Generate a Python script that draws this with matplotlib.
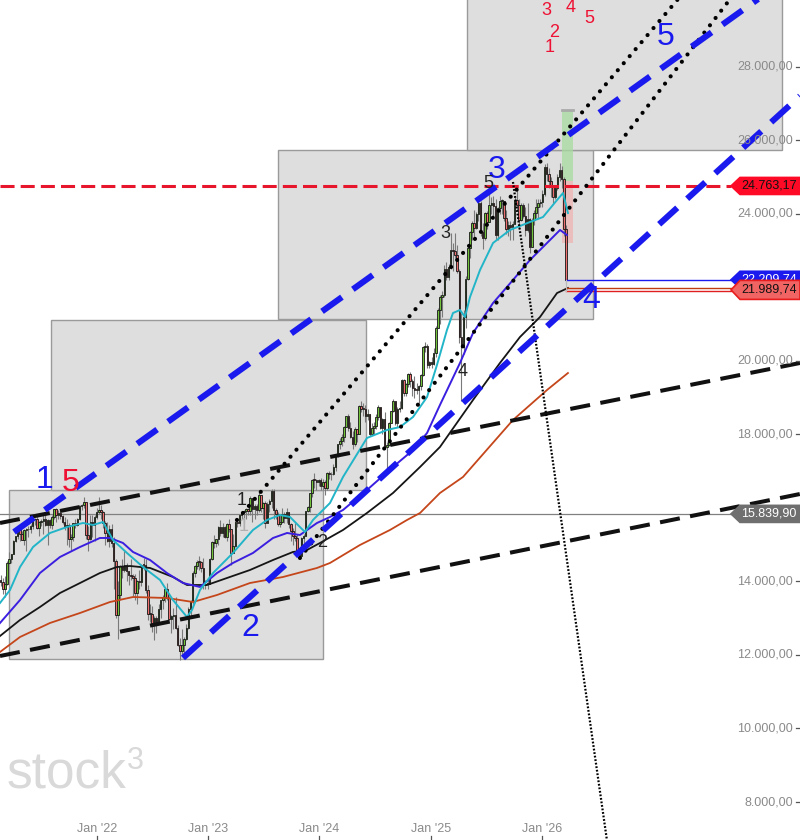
import numpy as np
import pandas as pd
import matplotlib
matplotlib.use("Agg")
import matplotlib.pyplot as plt
from matplotlib.patches import Rectangle, Polygon
import matplotlib.transforms as mtransforms

# ---------------- DATA ----------------
first_open = 14050
close_2021 = [13993,13786,13920,14502,14621,14748,15107,15234,15460,15280,15136,15400,15417,15438,15520,15693,15693,15448,15608,15650,15688,15540,15669,15544,15761,15977,15808,15852,15781,15609,15490,15532,15156,15206,15587,15543,15689,16054,16094,16160,15257,15170,15623,15532,15756,15885]
high_2021 = [14170,14100,14160,14570,14800,14760,15120,15250,15500,15500,15380,15420,15460,15500,15560,15700,15730,15800,15650,15700,15810,15800,15700,15690,15810,15980,15990,15950,15930,15810,15750,15700,15600,15290,15600,15700,15730,16080,16100,16290,16150,15500,15800,15800,15800,16000]
low_2021 = [13870,13650,13580,13900,14480,14500,14750,15080,15150,15100,15120,14980,14820,15200,15330,15420,15550,15440,15250,15520,15290,15500,14980,15450,15420,15700,15620,15700,15700,15560,15400,15000,14950,14820,15100,15450,15500,15670,15950,16000,15150,14820,15120,15200,15100,15700]

close_2022 = [15948,15883,15603,15318,15100,15425,15042,14567,13094,13628,14413,14306,14446,14284,14164,14142,14098,13674,14027,13982,14462,14460,13762,13127,13118,12813,13015,12865,13254,13484,13574,13795,13544,12971,13050,13088,12741,12284,12114,12273,12438,12731,13243,13460,14224,14432,14541,14529,14371,13894,13941,13924]
high_2022 = [16290,16080,15920,15650,15630,15540,15570,15200,14600,14000,14450,14600,14830,14500,14250,14600,14200,14200,14050,14300,14470,14650,14600,13900,13380,13320,13050,13060,13400,13500,13620,13820,13950,13600,13100,13280,13570,12820,12450,12700,12500,12850,13300,13490,14280,14450,14580,14700,14550,14650,14050,14080]
low_2022 = [15850,15700,15450,14980,15080,14950,14950,13800,13000,12440,13500,14100,14250,14000,13900,14050,13600,13500,13380,13800,13870,14300,13700,12960,12900,12630,12400,12600,12900,13000,13250,13450,13500,12950,12600,12720,12700,12250,11860,11980,11980,12400,12700,13000,13400,14120,14350,14300,14250,13800,13790,13800]

close_2023 = [14610,15087,15034,15150,15476,15308,15482,15210,15578,15428,14768,14957,15629,15598,15808,15882,15922,15961,15914,16275,15984,16051,15950,16358,15989,16148,15603,16105,16177,16469,15952,15832,15574,15632,15840,15740,15894,15557,15387,15229,15187,14798,14688,15189,15235,15919,16029,16398,16759,16751,16706,16752]
high_2023 = [14630,15100,15270,15170,15500,15660,15600,15500,15600,15710,15400,15300,15650,15680,15830,15920,15940,16000,16000,16330,16230,16100,16100,16430,16300,16170,16200,16150,16250,16530,16530,16000,15900,15800,16000,15900,15990,15890,15600,15450,15580,15300,14900,15200,15300,15930,16050,16420,16800,16960,16780,16800]
low_2023 = [14000,14580,14900,14950,15000,15250,15200,15180,15100,15350,14460,14800,14950,15480,15500,15700,15600,15700,15800,15800,15630,15700,15800,15900,15900,15700,15450,15600,15900,16000,15700,15700,15500,15470,15600,15600,15600,15450,15100,15000,15100,14750,14630,14700,15000,15250,15900,15900,16300,16550,16500,16600]

close_2024 = [16594,16705,16555,16961,16918,16927,17117,17419,17735,17815,17936,18206,18492,18175,17930,17737,18161,18001,18773,18704,18693,18498,18557,18002,18164,18235,18475,18748,18172,18418,17661,17723,18322,18633,18907,18302,18700,18720,19474,19121,19374,19658,19464,19255,19215,19211,19323,19626,20385,20406,19885,19985]
high_2024 = [16820,16800,16750,16980,17000,16970,17200,17450,17750,17900,18000,18230,18500,18570,18350,18100,18200,18150,18800,18900,18850,18800,18700,18550,18300,18350,18550,18800,18700,18450,18600,17800,18350,18650,18970,18900,18750,18900,19500,19500,19400,19680,19700,19500,19600,19400,19350,19650,20400,20520,20450,20000]
low_2024 = [16500,16500,16350,16500,16800,16750,16900,17000,17400,17600,17700,17800,18200,18100,17900,17600,17700,17800,18000,18600,18500,18350,18400,17950,18000,18000,18150,18400,18150,18000,17600,17020,17700,18300,18600,18250,18200,18600,18700,19050,19050,19300,19300,19050,19000,19100,18850,19200,19600,20250,19800,19800]

close_2025 = [19906,20215,20903,21395,21732,21787,22514,22288,22551,23009,22987,22892,22461,20642,20375,21206,22242,23087,23499,23767,23630,23997,24304,23516,23351,24033,23787,24255,24290,24218,23426,24163,24359,24363,23902,23597,23698,23639,23739,24378,24241,23831,24240,23958,23569,23877,23091,23837,24028,24186,24288,24340]
high_2025 = [20100,20350,20950,21450,21800,21900,22600,22700,22650,23480,23200,23480,23150,22500,21300,21400,22300,23100,23550,23800,24100,24050,24480,24350,23750,24050,24080,24640,24450,24480,24400,24200,24500,24400,24350,24100,23800,23800,23800,24450,24770,24400,24300,24300,24200,24300,23900,23900,24100,24400,24400,24400]
low_2025 = [19800,19900,20100,20900,21000,21200,21750,22200,22200,22500,22450,22800,22400,20500,18900,20200,20900,22200,22800,23300,23300,23600,23800,23400,23050,23300,23600,23800,24000,23900,23300,23300,24000,24000,23800,23450,23400,23300,23300,23750,24100,23600,23800,23900,23400,23500,22950,23100,23700,23900,23900,24200]

close_2026 = [24540,25280,25100,24900,24750,24460,24700,25000,25200,24950,23600,22209.74]
high_2026 = [24650,25350,25400,25250,25000,24800,24800,25100,25400,25300,25000,23700]
low_2026 = [24200,24500,24900,24700,24450,24300,24400,24650,24900,24700,23400,22100]

first_week = "2021-02-19"

# moving averages (sampled, fractional year / value)
ma_fast_t = [2021.128,2021.218,2021.308,2021.425,2021.577,2021.730,2021.874,2021.964,2022.053,2022.143,2022.269,2022.413,2022.566,2022.682,2022.808,2022.853,2022.925,2023.042,2023.221,2023.401,2023.527,2023.644,2023.734,2023.823,2023.868,2023.940,2024.093,2024.210,2024.425,2024.605,2024.722,2024.839,2024.965,2025.054,2025.144,2025.198,2025.261,2025.306,2025.351,2025.441,2025.558,2025.710,2025.890,2026.007,2026.133,2026.187,2026.231]
ma_fast_v = [13415,13769,14395,14939,15320,15483,15592,15538,15619,15129,14776,14395,14041,13497,13034,13225,13769,14231,14776,15402,15674,15810,15755,15483,15347,15674,16136,16844,17905,18123,18204,18476,19020,19891,20844,21306,21388,21197,21741,22476,23211,23565,23782,23918,24381,24571,24027]

ma_mid_t = [2021.128,2021.308,2021.487,2021.667,2021.847,2022.026,2022.116,2022.233,2022.323,2022.476,2022.628,2022.772,2022.925,2023.078,2023.221,2023.401,2023.581,2023.707,2023.823,2023.976,2024.093,2024.210,2024.425,2024.659,2024.839,2024.965,2025.081,2025.261,2025.378,2025.558,2025.737,2025.890,2026.043,2026.160,2026.222]
ma_mid_v = [12871,13497,14231,14667,14939,15184,15184,15048,14803,14585,14231,13959,13851,14231,14504,14776,15184,15320,15265,15592,15755,15946,16490,17116,17578,18041,18803,19946,20762,21578,22204,22748,23211,23565,23428]

ma_slow_t = [2021.128,2021.308,2021.487,2021.667,2021.847,2022.026,2022.179,2022.296,2022.476,2022.682,2022.808,2022.988,2023.167,2023.374,2023.581,2023.760,2023.886,2024.003,2024.210,2024.425,2024.659,2024.902,2025.081,2025.378,2025.620,2025.800,2025.980,2026.133,2026.231]
ma_slow_v = [12517,12953,13306,13687,13959,14231,14395,14422,14368,14123,13905,13905,14095,14313,14585,14803,14857,15048,15402,15864,16408,17116,17660,18939,19946,20653,21197,21850,21986]

ma_long_t = [2021.128,2021.308,2021.577,2021.847,2022.116,2022.323,2022.628,2022.862,2023.078,2023.374,2023.671,2023.976,2024.093,2024.362,2024.632,2024.785,2024.902,2025.081,2025.288,2025.737,2026.043,2026.231]
ma_long_v = [12082,12490,12871,13143,13442,13578,13551,13442,13633,13959,14123,14368,14504,14993,15402,15674,15864,16408,16844,18395,19211,19673]

# trend lines (start/end: fractional year, value)
blue_upper = [(2021.254, 15347), (2028.316, 30666)]
blue_lower = [(2022.772, 11919), (2028.316, 27211)]
black_upper = [(2021.128, 15592), (2028.316, 19946)]
black_lower = [(2021.128, 11973), (2028.316, 16381)]
dot_a = [(2023.257, 15674), (2027.327, 30231)]
dot_b = [(2023.823, 14640), (2027.820, 30367)]
dot_c = [(2025.737, 24871), (2026.581, 6966)]

# boxes (t0, t1, low, high)
boxes = [(2021.209, 2024.030, 11891, 16490),
         (2021.586, 2024.416, 16490, 21116),
         (2023.626, 2026.456, 21143, 25741),
         (2025.324, 2028.154, 25741, 30500)]

# levels
level_red = 24763.17
level_gray = 15839.90
level_price = 22209.74
level_ma = 21989.74
level_ma2 = 21905

# elliott labels (text, t, value, colour)
waves_big = [("1", 2021.532, 16762, "#1a1aee"), ("5", 2021.766, 16680, "#ee1133"),
             ("2", 2023.374, 12735, "#1a1aee"), ("3", 2025.593, 25197, "#1a1aee"),
             ("4", 2026.438, 21660, "#1a1aee"), ("5", 2027.112, 28816, "#1a1aee")]
waves_small = [("1", 2023.302, 16191, "#222222"), ("2", 2024.021, 15048, "#222222"),
               ("3", 2025.126, 23456, "#222222"), ("4", 2025.288, 19701, "#222222"),
               ("5", 2025.512, 24843, "#222222"),
               ("1", 2026.070, 28517, "#ee1133"), ("2", 2026.106, 28952, "#ee1133"),
               ("3", 2026.034, 29524, "#ee1133"), ("4", 2026.258, 29620, "#ee1133"),
               ("5", 2026.420, 29306, "#ee1133"),
               ("1", 2023.320, 15483, "#b0b0b0")]

target_t = (2026.177, 2026.276)
target_green = (24900, 26830)
target_red = (23211, 24900)

y_ticks = [8000, 10000, 12000, 14000, 16000, 18000, 20000, 22000, 24000, 26000, 28000]
x_years = [2022, 2023, 2024, 2025, 2026]
x_labels = ["Jan '22", "Jan '23", "Jan '24", "Jan '25", "Jan '26"]

# ---------------- PLOT ----------------
XL = (2021.128, 2028.316)
YL = (6966, 29823)
W, H = 800, 840
upp = (YL[1] - YL[0]) / H  # value units per pixel

closes = np.array(close_2021 + close_2022 + close_2023 + close_2024 + close_2025 + close_2026, float)
highs = np.array(high_2021 + high_2022 + high_2023 + high_2024 + high_2025 + high_2026, float)
lows = np.array(low_2021 + low_2022 + low_2023 + low_2024 + low_2025 + low_2026, float)
opens = np.r_[first_open, closes[:-1]]
highs = np.maximum(highs, np.maximum(opens, closes))
lows = np.minimum(lows, np.minimum(opens, closes))
dates = pd.date_range(first_week, periods=len(closes), freq="W-FRI")
t = 2021 + (dates - pd.Timestamp("2021-01-01")).days.values / 365.25

sans = ["Liberation Sans", "DejaVu Sans"]

fig = plt.figure(figsize=(W / 100, H / 100), dpi=100)
ax = fig.add_axes([0, 0, 1, 1])
ax.set_xlim(*XL)
ax.set_ylim(*YL)
ax.axis("off")
trans = mtransforms.blended_transform_factory(ax.transAxes, ax.transData)
transx = mtransforms.blended_transform_factory(ax.transData, ax.transAxes)

for (t0, t1, lo, hi) in boxes:
    ax.add_patch(Rectangle((t0, lo), t1 - t0, hi - lo, facecolor="#dedede",
                           edgecolor="#9a9a9a", lw=1.0, zorder=0))

# watermark
ax.text(7 / W, 1 - 788 / H, "stock", transform=ax.transAxes, fontsize=37,
        color="#d9d9d9", family=sans, ha="left", va="baseline", zorder=0.5)
ax.text(127 / W, 1 - 746 / H, "3", transform=ax.transAxes, fontsize=22,
        color="#d9d9d9", family=sans, ha="left", va="top", zorder=0.5)

# gray level line
ax.plot([XL[0], XL[0] + (XL[1] - XL[0]) * 735 / W], [level_gray, level_gray],
        color="#808080", lw=0.9, zorder=1)

# target rectangles
ax.add_patch(Rectangle((target_t[0], target_green[0]), target_t[1] - target_t[0],
                       target_green[1] - target_green[0], facecolor="#a8dca0",
                       alpha=0.75, edgecolor="none", zorder=1.5))
ax.add_patch(Rectangle((target_t[0], target_red[0]), target_t[1] - target_t[0],
                       target_red[1] - target_red[0], facecolor="#f0b4b4",
                       alpha=0.75, edgecolor="none", zorder=1.5))
ax.plot(target_t, [target_green[1]] * 2, color="#aaaaaa", lw=2, zorder=1.6)

# candles
wk = 1 / 52.18
ax.vlines(t, lows, highs, color="#7a7a7a", lw=0.8, zorder=2)
up = closes >= opens
cols = np.where(up, "#72c23c", "#ee6f6f")
body = np.where(np.abs(closes - opens) < 20, 20, closes - opens)
ax.bar(t, body, bottom=opens, width=wk * 0.7, color=cols, edgecolor="#151515",
       lw=0.6, zorder=3)

# moving averages
ax.plot(ma_long_t, ma_long_v, color="#c4461a", lw=1.3, zorder=4)
ax.plot(ma_slow_t, ma_slow_v, color="#151515", lw=1.3, zorder=4)
ax.plot(ma_mid_t, ma_mid_v, color="#3b1fe0", lw=1.4, zorder=4)
ax.plot(ma_fast_t, ma_fast_v, color="#22b5c8", lw=1.4, zorder=4)

# red dashed level
x_tag = XL[0] + (XL[1] - XL[0]) * 731 / W
ax.plot([XL[0], x_tag], [level_red, level_red], color="#e8162c", lw=2.2,
        dashes=(4.6, 2.0), zorder=5)

# price lines
ax.plot([t[-1] + 0.004, x_tag], [level_price] * 2, color="#1a1aee", lw=1.0, zorder=5)
ax.plot([t[-1] + 0.004, x_tag], [level_ma] * 2, color="#c03a10", lw=1.0, zorder=5)
ax.plot([t[-1] + 0.004, x_tag], [level_ma2] * 2, color="#e02020", lw=1.0, zorder=5)
ax.plot([t[-1] + 0.004] * 2, [level_ma2, level_price], color="#bbbbbb", lw=0.8, zorder=5)

# black dashed trend lines
for ln in (black_upper, black_lower):
    ax.plot([ln[0][0], ln[1][0]], [ln[0][1], ln[1][1]], color="#111111", lw=2.9,
            dashes=(5.0, 2.6), zorder=6)

# dotted trend lines
for ln in (dot_a, dot_b):
    ax.plot([ln[0][0], ln[1][0]], [ln[0][1], ln[1][1]], color="#000000", lw=3.0,
            dashes=(0.01, 2.2), dash_capstyle="round", zorder=6)
ax.plot([dot_c[0][0], dot_c[1][0]], [dot_c[0][1], dot_c[1][1]], color="#000000",
        lw=1.6, dashes=(0.8, 0.8), zorder=6)

# blue dashed channel
for ln in (blue_upper, blue_lower):
    ax.plot([ln[0][0], ln[1][0]], [ln[0][1], ln[1][1]], color="#1a1aee", lw=4.4,
            dashes=(4.0, 2.2), zorder=7)

# wave labels
for (s, tx, vy, c) in waves_big:
    ax.text(tx, vy, s, color=c, fontsize=23, family=sans, ha="center", va="center", zorder=8)
for (s, tx, vy, c) in waves_small:
    ax.text(tx, vy, s, color=c, fontsize=13, family=sans, ha="center", va="center", zorder=8)


def fmt(v):
    return f"{v:,.2f}".replace(",", "X").replace(".", ",").replace("X", ".")


tag_levels = [level_red, level_gray, level_price, level_ma]

# right axis labels (hidden where a price tag covers them)
for v in y_ticks:
    ax.plot([795.5 / W, 1.0], [v, v], transform=trans, color="#555555", lw=0.9, zorder=9)
    if min(abs(v - lv) for lv in tag_levels) < 14 * upp:
        continue
    ax.text(793 / W, v, fmt(v), transform=trans, ha="right", va="center",
            fontsize=9, color="#8a8a8a", family=sans, zorder=9)

# x axis labels
for yr, lab in zip(x_years, x_labels):
    ty = 2021 + (pd.Timestamp(f"{yr}-01-01") - pd.Timestamp("2021-01-01")).days / 365.25
    ax.text(ty, 1 - 829 / H, lab, transform=transx, ha="center", va="center",
            fontsize=9, color="#8a8a8a", family=sans, zorder=9)
    ax.plot([ty, ty], [0, 4 / H], transform=transx, color="#555555", lw=0.9, zorder=9)


def tag(v, label, fc, tc, hh=8.5, ec=None, z=10, dy=0.0):
    h = hh * upp
    pts = [(731 / W, v), (740 / W, v + h), (1.0, v + h), (1.0, v - h), (740 / W, v - h)]
    ax.add_patch(Polygon(pts, closed=True, transform=trans, facecolor=fc,
                         edgecolor=ec if ec else fc, lw=1.2, zorder=z))
    ax.text(769 / W, v + dy, label, transform=trans, ha="center", va="center",
            fontsize=9, color=tc, family=sans, zorder=z + 0.5)


tag(level_red, fmt(level_red), "#ff0a26", "#111111")
tag(level_gray, fmt(level_gray), "#6f6f6f", "#ffffff")
tag(level_price, fmt(level_price), "#1a1aee", "#ffffff", z=10)
tag(level_ma - 55, fmt(level_ma), "#f06464", "#111111", hh=9.5, ec="#e81c1c", z=12)

fig.savefig("out.png", dpi=100)
